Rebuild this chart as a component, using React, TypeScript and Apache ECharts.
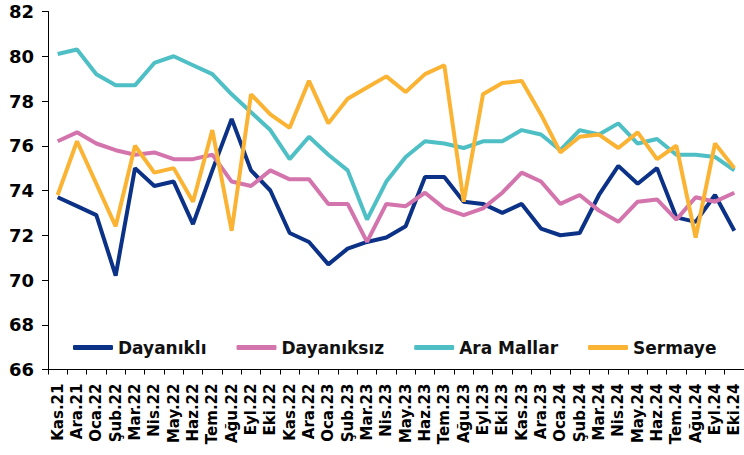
import React, { useEffect, useRef } from "react";
import * as echarts from "echarts";

const categories = [
  "Kas.21", "Ara.21", "Oca.22", "Şub.22", "Mar.22", "Nis.22", "May.22", "Haz.22", "Tem.22", "Ağu.22", "Eyl.22", "Eki.22",
  "Kas.22", "Ara.22", "Oca.23", "Şub.23", "Mar.23", "Nis.23", "May.23", "Haz.23", "Tem.23", "Ağu.23", "Eyl.23", "Eki.23",
  "Kas.23", "Ara.23", "Oca.24", "Şub.24", "Mar.24", "Nis.24", "May.24", "Haz.24", "Tem.24", "Ağu.24", "Eyl.24", "Eki.24",
];

const dayanikli = [
  73.7, 73.3, 72.9, 70.2, 75.0, 74.2, 74.4, 72.5, 74.9, 77.2, 74.9, 74.0,
  72.1, 71.7, 70.7, 71.4, 71.7, 71.9, 72.4, 74.6, 74.6, 73.5, 73.4, 73.0,
  73.4, 72.3, 72.0, 72.1, 73.8, 75.1, 74.3, 75.0, 72.8, 72.6, 73.8, 72.2,
];

const dayaniksiz = [
  76.2, 76.6, 76.1, 75.8, 75.6, 75.7, 75.4, 75.4, 75.6, 74.4, 74.2, 74.9,
  74.5, 74.5, 73.4, 73.4, 71.7, 73.4, 73.3, 73.9, 73.2, 72.9, 73.2, 73.9,
  74.8, 74.4, 73.4, 73.8, 73.1, 72.6, 73.5, 73.6, 72.7, 73.7, 73.5, 73.9,
];

const araMallar = [
  80.1, 80.3, 79.2, 78.7, 78.7, 79.7, 80.0, 79.6, 79.2, 78.3, 77.5, 76.7,
  75.4, 76.4, 75.6, 74.9, 72.7, 74.4, 75.5, 76.2, 76.1, 75.9, 76.2, 76.2,
  76.7, 76.5, 75.8, 76.7, 76.5, 77.0, 76.1, 76.3, 75.6, 75.6, 75.5, 74.9,
];

const sermaye = [
  73.8, 76.2, 74.3, 72.4, 76.0, 74.8, 75.0, 73.5, 76.7, 72.2, 78.3, 77.4,
  76.8, 78.9, 77.0, 78.1, 78.6, 79.1, 78.4, 79.2, 79.6, 73.5, 78.3, 78.8,
  78.9, 77.4, 75.7, 76.4, 76.5, 75.9, 76.6, 75.4, 76.0, 71.9, 76.1, 75.0,
];

const seriesNames = ["Dayanıklı", "Dayanıksız", "Ara Mallar", "Sermaye"];
const seriesColors = ["#0b3286", "#d474ad", "#4dbfc5", "#fbb334"];
const yTicks = { min: 66, max: 82, interval: 2 };

export default function App() {
  const ref = useRef<HTMLDivElement>(null);

  useEffect(() => {
    if (!ref.current) return;
    const chart = echarts.init(ref.current, null, { renderer: "svg" });
    const dataSets = [dayanikli, dayaniksiz, araMallar, sermaye];
    const font = "DejaVu Sans";
    chart.setOption({
      animation: false,
      backgroundColor: "#ffffff",
      grid: { left: 48, right: -4, top: 11.5, bottom: 85.5, containLabel: false },
      legend: {
        left: 68,
        top: 334,
        itemWidth: 40,
        itemHeight: 5,
        itemGap: 30,
        icon: "roundRect",
        data: seriesNames,
        textStyle: { fontFamily: font, fontWeight: "bold", fontSize: 17, color: "#111" },
      },
      xAxis: {
        type: "category",
        data: categories,
        boundaryGap: true,
        axisLine: { lineStyle: { color: "#000", width: 1 } },
        axisTick: { show: true, length: 5, alignWithLabel: false, lineStyle: { color: "#000" } },
        axisLabel: {
          interval: 0,
          rotate: 90,
          margin: 14,
          fontFamily: font,
          fontWeight: "bold",
          fontSize: 15,
          color: "#000",
        },
        splitLine: { show: false },
      },
      yAxis: {
        type: "value",
        min: yTicks.min,
        max: yTicks.max,
        interval: yTicks.interval,
        axisLine: { show: true, lineStyle: { color: "#000", width: 1 } },
        axisTick: { show: true, length: 6, inside: false, lineStyle: { color: "#000" } },
        axisLabel: {
          margin: 14,
          fontFamily: font,
          fontWeight: "bold",
          fontSize: 18,
          color: "#000",
        },
        splitLine: { show: false },
      },
      series: seriesNames.map((name, i) => ({
        name,
        type: "line",
        data: dataSets[i],
        symbol: "none",
        color: seriesColors[i],
        lineStyle: { width: 4, color: seriesColors[i] },
        z: 2 + i,
      })),
    });
    return () => chart.dispose();
  }, []);

  return (
    <div
      ref={ref}
      style={{ position: "fixed", left: 0, top: 0, width: 744, height: 455 }}
    />
  );
}
